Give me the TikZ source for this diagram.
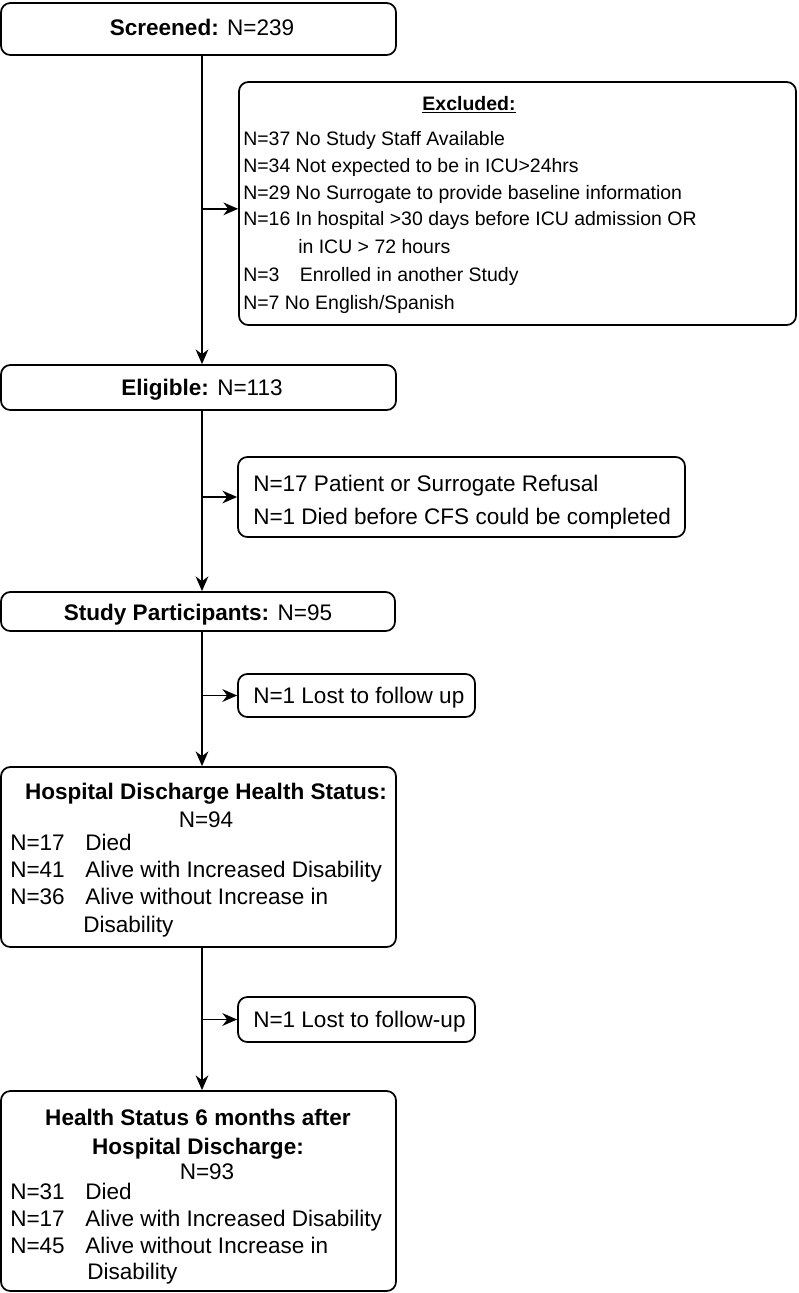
\documentclass[tikz,border=0pt]{standalone}
\usepackage{fontspec}
\setmainfont{Liberation Sans}
\usetikzlibrary{arrows.meta,fit}
\newcommand\fmain{\fontsize{16.9pt}{20pt}\selectfont}
\newcommand\fsmall{\fontsize{14.6pt}{18pt}\selectfont}
\begin{document}
\begin{tikzpicture}[x=0.75pt,y=-0.75pt,
  box/.style={draw, rounded corners=7pt, line width=1.3pt, inner sep=0pt},
  ctext/.style={anchor=base, inner sep=0pt, font=\fmain},
  ltext/.style={anchor=base west, inner sep=0pt, font=\fmain},
  stext/.style={anchor=base west, inner sep=0pt, font=\fsmall},
  arr/.style={-{Stealth[length=11pt,width=9.5pt,inset=3.5pt]}, line width=1.3pt}]
\useasboundingbox (0,0) rectangle (799,1293);

% boxes
\node[box, fit={(1,3) (396,55)}] (screened) {};
\node[box, fit={(239,82) (796,325)}] (excluded) {};
\node[box, fit={(1,365) (396,410)}] (eligible) {};
\node[box, fit={(238,457) (685,537)}] (refusal) {};
\node[box, fit={(1,592) (395,631)}] (participants) {};
\node[box, fit={(238,674) (475,717)}] (lost1) {};
\node[box, fit={(1,767) (396,947)}] (hospital) {};
\node[box, fit={(238,997) (475,1042)}] (lost2) {};
\node[box, fit={(1,1091) (396,1291)}] (health) {};

% texts
\node[ctext] (tScr) at (202,35) {\textbf{Screened:} N=239};

\node[anchor=base, inner sep=0pt, font=\fsmall] (tEx0) at (469,110) {\underline{\textbf{Excluded:}}};
\node[stext] (tEx1) at (243,145) {N=37 No Study Staff Available};
\node[stext] (tEx2) at (243,172) {N=34 Not expected to be in ICU>24hrs};
\node[stext] (tEx3) at (243,199) {N=29 No Surrogate to provide baseline information};
\node[stext] (tEx4) at (243,225) {N=16 In hospital >30 days before ICU admission OR};
\node[stext] (tEx5) at (298,253) {in ICU > 72 hours};
\node[stext] (tEx6) at (243,281) {\makebox[42.5pt][l]{N=3}Enrolled in another Study};
\node[stext] (tEx7) at (243,309) {N=7 No English/Spanish};

\node[ctext] (tEl) at (202,395) {\textbf{Eligible:} N=113};

\node[ltext] (tRe1) at (253,491) {N=17 Patient or Surrogate Refusal};
\node[ltext] (tRe2) at (253,524) {N=1 Died before CFS could be completed};

\node[ctext] (tPa) at (198,620) {\textbf{Study Participants:} N=95};

\node[ltext] (tL1) at (253,703) {N=1 Lost to follow up};

\node[ctext] (tHo0) at (206,799) {\textbf{Hospital Discharge Health Status:}};
\node[ctext] (tHo1) at (206,827) {N=94};
\node[ltext] (tHo2) at (10,850) {N=17};
\node[ltext] (tHo2b) at (85,850) {Died};
\node[ltext] (tHo3) at (10,877) {N=41};
\node[ltext] (tHo3b) at (85,877) {Alive with Increased Disability};
\node[ltext] (tHo4) at (10,904) {N=36};
\node[ltext] (tHo4b) at (85,904) {Alive without Increase in};
\node[ltext] (tHo5) at (83,932) {Disability};

\node[ltext] (tL2) at (253,1027) {N=1 Lost to follow-up};

\node[ctext] (tHe0) at (198,1125) {\textbf{Health Status 6 months after}};
\node[ctext] (tHe1) at (198,1154) {\textbf{Hospital Discharge:}};
\node[ctext] (tHe2) at (207,1179) {N=93};
\node[ltext] (tHe3) at (10,1199) {N=31};
\node[ltext] (tHe3b) at (85,1199) {Died};
\node[ltext] (tHe4) at (10,1226) {N=17};
\node[ltext] (tHe4b) at (85,1226) {Alive with Increased Disability};
\node[ltext] (tHe5) at (10,1253) {N=45};
\node[ltext] (tHe5b) at (85,1253) {Alive without Increase in};
\node[ltext] (tHe6) at (87,1279) {Disability};

% connectors
\coordinate (spine) at (202,0);
\coordinate (exin) at ([yshift=-4pt]excluded.west);
\draw[arr] (screened.south -| spine) -- (eligible.north -| spine);
\draw[arr] (spine |- exin) -- (exin);
\draw[arr] (eligible.south -| spine) -- (participants.north -| spine);
\draw[arr] (spine |- refusal.west) -- (refusal.west);
\draw[arr] (participants.south -| spine) -- (hospital.north -| spine);
\draw[arr] (spine |- lost1.west) -- (lost1.west);
\draw[arr] (hospital.south -| spine) -- (health.north -| spine);
\draw[arr] (spine |- lost2.west) -- (lost2.west);
\end{tikzpicture}
\end{document}
